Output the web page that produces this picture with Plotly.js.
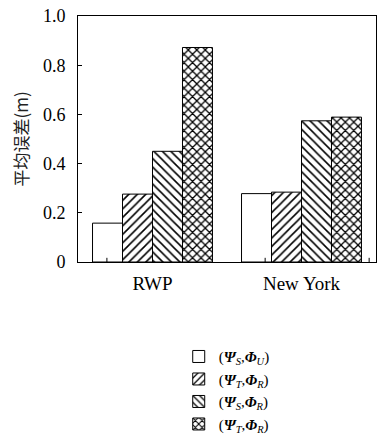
<!DOCTYPE html>
<html>
<head>
<meta charset="utf-8">
<script src="https://cdn.plot.ly/plotly-3.0.1.min.js"></script>
<style>
html,body{margin:0;padding:0;background:#fff;}
#chart{width:377px;height:439px;}
</style>
</head>
<body>
<div id="chart"></div>
<script>
const categories = ['RWP', 'New York'];
const seriesNames = [
  '(<b><i>Ψ</i></b><sub><i>S</i></sub>,<b><i>Φ</i></b><sub><i>U</i></sub>)',
  '(<b><i>Ψ</i></b><sub><i>T</i></sub>,<b><i>Φ</i></b><sub><i>R</i></sub>)',
  '(<b><i>Ψ</i></b><sub><i>S</i></sub>,<b><i>Φ</i></b><sub><i>R</i></sub>)',
  '(<b><i>Ψ</i></b><sub><i>T</i></sub>,<b><i>Φ</i></b><sub><i>R</i></sub>)'
];
const psiSPhiU = [0.158, 0.278];
const psiTPhiR1 = [0.276, 0.284];
const psiSPhiR = [0.450, 0.574];
const psiTPhiR2 = [0.872, 0.589];
const yTickVals = [0, 0.2, 0.4, 0.6, 0.8, 1.0];
const yTickText = ['0', '0.2', '0.4', '0.6', '0.8', '1.0'];

const seriesValues = [psiSPhiU, psiTPhiR1, psiSPhiR, psiTPhiR2];
const patterns = ['', '/', '\\', 'x'];
const solidities = [0.2, 0.26, 0.26, 0.38];
const serif = 'Liberation Serif';

const traces = seriesValues.map((vals, i) => ({
  type: 'bar',
  x: categories,
  y: vals,
  name: seriesNames[i],
  marker: {
    color: 'white',
    line: {color: 'black', width: 1},
    pattern: {shape: patterns[i], fgcolor: 'black', bgcolor: 'white', size: 6, solidity: solidities[i]}
  }
}));

const tickPaperX = [0.097, 0.628, 0.977];
const shapes = tickPaperX.map(px => ({
  type: 'line', xref: 'paper', yref: 'paper',
  x0: px, x1: px, y0: 0, y1: 0.017,
  line: {color: 'black', width: 1}
}));

const layout = {
  width: 377, height: 439,
  margin: {l: 78, r: 1, t: 16, b: 177, autoexpand: false},
  paper_bgcolor: 'white', plot_bgcolor: 'white',
  barmode: 'group', bargap: 0.195, bargroupgap: 0,
  font: {family: serif, size: 17, color: 'black'},
  showlegend: true,
  legend: {
    x: 0.338, y: -0.318, xanchor: 'left', yanchor: 'top',
    font: {family: serif, size: 15, color: 'black'},
    bgcolor: 'rgba(0,0,0,0)', borderwidth: 0,
    tracegroupgap: 0
  },
  xaxis: {
    type: 'category', range: [-0.5, 1.5],
    showline: true, linecolor: 'black', linewidth: 1, mirror: true,
    ticks: '', showgrid: false, zeroline: false,
    tickfont: {family: serif, size: 19, color: 'black'},
    ticklabelstandoff: 4
  },
  yaxis: {
    range: [0, 1], tickvals: yTickVals, ticktext: yTickText,
    ticks: 'inside', ticklen: 4, tickcolor: 'black',
    showline: true, linecolor: 'black', linewidth: 1, mirror: true,
    showgrid: false, zeroline: false,
    tickfont: {family: serif, size: 18, color: 'black'},
    ticklabelstandoff: 8,
    title: {text: '平均误差(m)', font: {family: 'Noto Sans CJK SC', size: 17, color: '#222'}, standoff: 9}
  },
  shapes: shapes
};

Plotly.newPlot('chart', traces, layout, {displayModeBar: false, staticPlot: true});
</script>
</body>
</html>
